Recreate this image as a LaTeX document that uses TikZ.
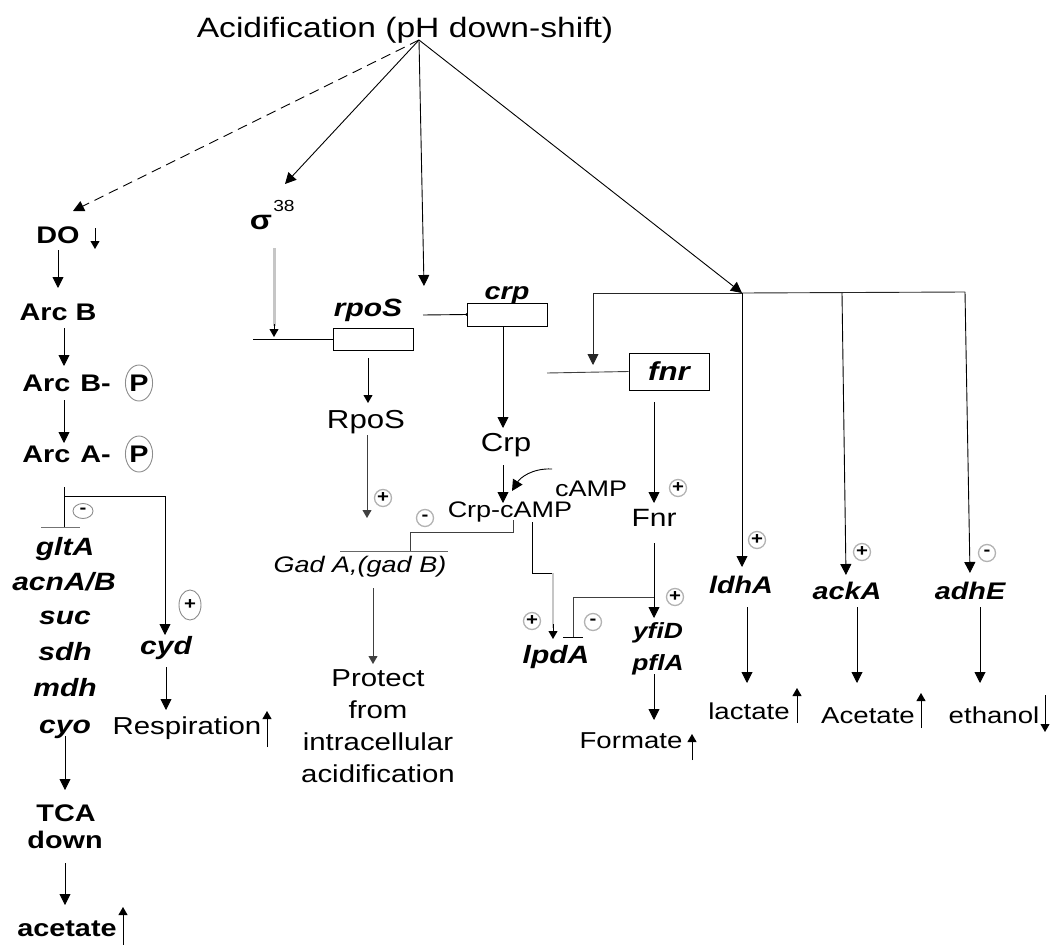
\documentclass[tikz,border=0pt]{standalone}
\usepackage{fontspec}
\setmainfont{Liberation Sans}[FakeStretch=1.2]
\usetikzlibrary{arrows.meta,shapes.geometric}
\begin{document}
\begin{tikzpicture}[x=1pt,y=-1pt,
  lbl/.style={inner sep=0pt, text height={0.72*#1pt}, text depth={0.2*#1pt}},
  rg/.style={lbl=#1, font=\fontsize{#1}{#1}\selectfont},
  bd/.style={lbl=#1, font=\fontsize{#1}{#1}\selectfont\bfseries},
  gn/.style={lbl=#1, font=\fontsize{#1}{#1}\selectfont\bfseries\itshape},
  gi/.style={lbl=#1, font=\fontsize{#1}{#1}\selectfont\itshape},
  arr/.style={-{Triangle[length=11pt,width=11pt]}, line width=0.9pt},
  sarr/.style={-{Triangle[length=8pt,width=9pt]}, line width=0.9pt},
  ln/.style={line width=0.9pt},
  gbox/.style={draw, line width=0.9pt, inner sep=0pt},
  sgn/.style={circle, draw=black!30, line width=1.3pt, inner sep=0pt, minimum size=17pt, font=\fontsize{17}{17}\selectfont\bfseries},
  esgn/.style={ellipse, draw=black!45, line width=0.9pt, inner sep=0pt, font=\fontsize{17}{17}\selectfont\bfseries},
  pe/.style={ellipse, draw=black!45, line width=0.9pt, inner sep=0pt, minimum width=20pt, minimum height=36pt, font=\fontsize{24}{24}\selectfont\bfseries}
]
\path[use as bounding box] (0,0) rectangle (1058,945);

% title
\node[rg=28] (title) at (405,30) {Acidification (pH down-shift)};
\coordinate (apex) at (419,40);

% ---------- left column ----------
\node[bd=24] (DO) at (58,237) {DO};
\coordinate (DOa) at (95,228);
\coordinate (DOb) at (95,249);
\draw[sarr] (DOa) -- (DOb);
\draw[arr, dash pattern=on 10pt off 6pt] (apex) -- (73,211);

\node[bd=24] (ArcB) at (58,314) {Arc B};
\draw[arr] (58,250) -- (58,288);
\draw[arr] (64,328) -- (64,366);
\node[bd=24, anchor=east] (ArcBP) at (111,385) {Arc\hspace{2pt} B-};
\node[pe] (P1) at (139,383) {P};
\draw[arr] (64,400) -- (64,443);
\node[bd=24, anchor=east] (ArcAP) at (111,456) {Arc\hspace{2pt} A-};
\node[pe] (P2) at (139,454) {P};

\draw[ln] (64,487) -- (64,527);
\draw[ln, black!55] (41,527) -- (80,527);
\draw[arr] (64,496) -| (165,635);
\node[esgn, minimum width=20pt, minimum height=15pt] (m1) at (83,511) {-};
\node[esgn, minimum width=22pt, minimum height=30pt] (p1) at (190,605) {+};

\node[gn=25] (gltA) at (65,549) {gltA};
\node[gn=25] (acn) at (64,584) {acnA/B};
\node[gn=25] (suc) at (65,618) {suc};
\node[gn=25] (sdh) at (65,654) {sdh};
\node[gn=25] (mdh) at (65,690) {mdh};
\node[gn=25] (cyo) at (65,727) {cyo};

\node[gn=25] (cyd) at (166,648) {cyd};
\draw[arr] (166,667) -- (166,710);
\node[rg=24.5] (resp) at (187,728) {Respiration};
\draw[sarr] (267,747) -- (267,711);

\draw[arr] (65,736) -- (65,790);
\node[bd=24] (TCA) at (66,815) {TCA};
\node[bd=24] (down) at (65,842) {down};
\draw[arr] (65,863) -- (65,905);
\node[bd=24] (acet1) at (67,930) {acetate};
\draw[sarr] (123,945) -- (123,907);

% ---------- sigma / rpoS ----------
\node[bd=27] (sig) at (261,222) {σ};
\node[rg=16] (s38) at (284,207) {38};
\draw[arr] (apex) -- (285,184);
\draw[gray!45, line width=3pt] (274,248) -- (274,326);
\draw[sarr] (274,324) -- (274,337);

\node[gbox, minimum width=80pt, minimum height=22pt] (rpoSbox) at (373,339) {};
\node[gn=25] (rpoSl) at (368,310) {rpoS};
\draw[ln] (253,339) -- (rpoSbox.west);
\draw[arr] (apex) -- (424,286);

\node[gbox, minimum width=80pt, minimum height=23pt] (crpbox) at (507,314.5) {};
\node[gn=24] (crpl) at (507,293) {crp};
\draw[ln] (423,315) -- (crpbox.west);
\fill (crpbox.west) circle (1.4pt);

\draw[arr] (503,327) -- (503,428);
\node[rg=26] (Crp) at (506,445) {Crp};
\draw[arr] (503,465) -- (503,503);
\node[rg=22.5] (CrpcAMP) at (510,512) {Crp-cAMP};
\node[rg=22.5] (cAMP) at (591,491) {cAMP};
\draw[arr] (552,469) .. controls (532,468) and (520,478) .. (512,491);

\node[rg=26] (RpoS) at (366,422) {RpoS};
\draw[sarr] (368,358) -- (368,403);
\draw[sarr, black!75] (367,435) -- (367,518);
\node[sgn] (p2) at (383,498) {+};
\node[sgn] (m2) at (425,518) {-};

\draw[ln, black!75] (513,520) |- (410,532) -- (410,551);
\draw[ln, black!60] (340,551) -- (448,551);
\node[gi=22.5] (Gad) at (360,567) {Gad A,(gad B)};
\draw[sarr, black!75] (373,588) -- (373,664);
\node[anchor=north, align=center, inner sep=0pt, font=\fontsize{24.5}{32}\selectfont] (prot) at (378,669) {Protect\\from\\intracellular\\acidification};

% ---------- lpdA ----------
\draw[ln] (532,522) |- (553,573);
\draw[gray!45, line width=2.5pt] (553,573) -- (553,628);
\draw[sarr] (553,624) -- (553,639);
\node[gn=25] (lpdA) at (556,657) {lpdA};
\node[sgn] (p3) at (532,621) {+};
\node[sgn] (m3) at (593,622) {-};
\draw[ln, black!75] (654,597) -| (573,637);
\draw[ln] (563,637) -- (583,637);

% ---------- fnr ----------
\node[gbox, minimum width=80pt, minimum height=37pt, font=\fontsize{26}{26}\selectfont\bfseries\itshape] (fnrbox) at (669,371.5) {fnr};
\draw[ln, black!75] (547,373) -- (fnrbox.west);
\draw[arr] (apex) -- (742,293);
\draw[arr, black!85] (742,293) -| (593,365);
\draw[ln, black!85] (742,293) -- (965,292);
\draw[arr] (742,293) -- (742,567);
\draw[arr] (842,293) -- (846,575);
\draw[arr] (965,292) -- (970,573);

\draw[arr] (654,402) -- (654,503);
\node[rg=25] (Fnr) at (654,520) {Fnr};
\node[sgn] (p4) at (678,488) {+};
\draw[arr] (654,543) -- (654,618);
\node[sgn] (p5) at (675,597) {+};
\node[gn=22] (yfiD) at (658,633) {yfiD};
\node[gn=22] (pflA) at (658,665) {pflA};
\draw[arr] (654,674) -- (654,720);
\node[rg=23] (Formate) at (631,743) {Formate};
\draw[sarr] (692,760) -- (692,734);

% ---------- right ----------
\node[gn=24] (ldhA) at (741,587) {ldhA};
\node[gn=24] (ackA) at (847,593) {ackA};
\node[gn=24] (adhE) at (970,593) {adhE};
\node[sgn] (p6) at (757,540) {+};
\node[sgn] (p7) at (862,552) {+};
\node[sgn] (m4) at (987,553) {-};
\draw[arr] (747,607) -- (747,683);
\draw[arr] (857,607) -- (857,683);
\draw[arr] (980,607) -- (980,683);
\node[rg=23] (lact) at (749,714) {lactate};
\draw[sarr] (797,723) -- (797,688);
\node[rg=23] (Acet) at (868,718) {Acetate};
\draw[sarr] (921,728) -- (921,693);
\node[rg=23] (eth) at (994,718) {ethanol};
\draw[sarr] (1045,695) -- (1045,732);
\end{tikzpicture}
\end{document}
